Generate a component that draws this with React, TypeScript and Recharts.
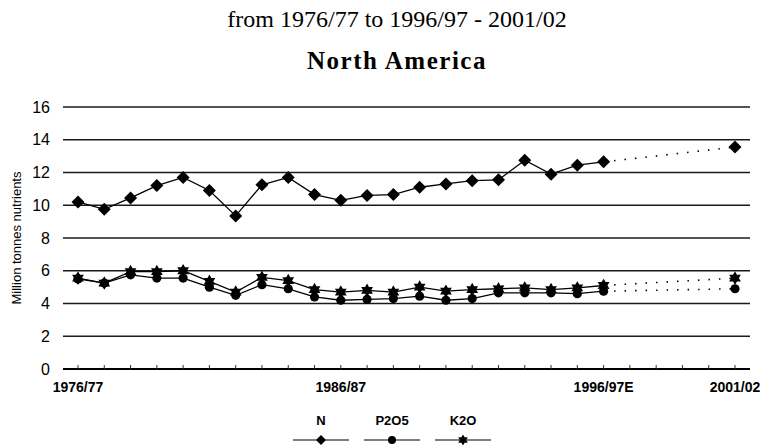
import React from "react";
import { LineChart, Line, XAxis, YAxis, CartesianGrid, Label } from "recharts";

const years = [
  "1976/77", "1977/78", "1978/79", "1979/80", "1980/81", "1981/82", "1982/83",
  "1983/84", "1984/85", "1985/86", "1986/87", "1987/88", "1988/89", "1989/90",
  "1990/91", "1991/92", "1992/93", "1993/94", "1994/95", "1995/96", "1996/97E",
  "1997/98", "1998/99", "1999/00", "2000/01", "2001/02",
];
const shownLabels = ["1976/77", "1986/87", "1996/97E", "2001/02"];

const nValues = [
  10.2, 9.75, 10.45, 11.2, 11.7, 10.9, 9.35, 11.25, 11.7, 10.65, 10.3, 10.6, 10.65,
  11.1, 11.3, 11.5, 11.55, 12.75, 11.9, 12.45, 12.65, null, null, null, null, 13.55,
];
const p2o5Values = [
  5.5, 5.25, 5.75, 5.55, 5.55, 5.0, 4.5, 5.15, 4.9, 4.4, 4.2, 4.25, 4.3,
  4.45, 4.2, 4.3, 4.65, 4.65, 4.65, 4.6, 4.75, null, null, null, null, 4.9,
];
const k2oValues = [
  5.55, 5.25, 5.95, 5.95, 6.0, 5.35, 4.7, 5.6, 5.4, 4.85, 4.7, 4.8, 4.7,
  5.0, 4.75, 4.85, 4.9, 4.95, 4.85, 4.95, 5.1, null, null, null, null, 5.55,
];
// projection 1996/97E -> 2001/02 (dotted)
const nProjection = [
  null, null, null, null, null, null, null, null, null, null, null, null, null,
  null, null, null, null, null, null, null, 12.65, null, null, null, null, 13.55,
];
const p2o5Projection = [
  null, null, null, null, null, null, null, null, null, null, null, null, null,
  null, null, null, null, null, null, null, 4.75, null, null, null, null, 4.9,
];
const k2oProjection = [
  null, null, null, null, null, null, null, null, null, null, null, null, null,
  null, null, null, null, null, null, null, 5.1, null, null, null, null, 5.55,
];
const yTicks = [0, 2, 4, 6, 8, 10, 12, 14, 16];

const data = years.map((year, i) => ({
  year,
  n: nValues[i],
  p: p2o5Values[i],
  k: k2oValues[i],
  nProj: nProjection[i],
  pProj: p2o5Projection[i],
  kProj: k2oProjection[i],
}));

const SANS = "'Liberation Sans', Arial, sans-serif";
const SERIF = "'Liberation Serif', 'Times New Roman', serif";

function diamondPath(cx: number, cy: number, r: number) {
  return `M${cx},${cy - r}L${cx + r},${cy}L${cx},${cy + r}L${cx - r},${cy}Z`;
}

function starPath(cx: number, cy: number, ro: number, ri: number) {
  let d = "";
  for (let k = 0; k < 12; k++) {
    const a = ((-90 + k * 30) * Math.PI) / 180;
    const r = k % 2 === 0 ? ro : ri;
    d += `${k === 0 ? "M" : "L"}${cx + r * Math.cos(a)},${cy + r * Math.sin(a)}`;
  }
  return d + "Z";
}

const DiamondDot = (props: any) => {
  const { cx, cy, index } = props;
  if (cx == null || cy == null) return <g key={`nd-${index}`} />;
  return <path key={`nd-${index}`} d={diamondPath(cx, cy, 6.5)} fill="#000" />;
};

const CircleDot = (props: any) => {
  const { cx, cy, index } = props;
  if (cx == null || cy == null) return <g key={`pd-${index}`} />;
  return <circle key={`pd-${index}`} cx={cx} cy={cy} r={4.6} fill="#000" />;
};

const StarDot = (props: any) => {
  const { cx, cy, index } = props;
  if (cx == null || cy == null) return <g key={`kd-${index}`} />;
  return <path key={`kd-${index}`} d={starPath(cx, cy, 6.8, 3.9)} fill="#000" />;
};

const YearTick = (props: any) => {
  const { x, y, payload } = props;
  const show = shownLabels.includes(payload.value);
  return (
    <g>
      <line x1={x} x2={x} y1={y - 4} y2={y} stroke="#333" strokeWidth={1} />
      {show && (
        <text x={x} y={y + 23} textAnchor="middle" fontSize={14} fontWeight="bold" fill="#000" fontFamily={SANS}>
          {payload.value}
        </text>
      )}
    </g>
  );
};

function LegendBox() {
  const items = [
    { name: "N", cx: 321, mark: "d" },
    { name: "P2O5", cx: 392, mark: "c" },
    { name: "K2O", cx: 463, mark: "s" },
  ];
  return (
    <svg width={760} height={445} style={{ position: "absolute", left: 0, top: 0, pointerEvents: "none" }}>
      {items.map((it) => (
        <g key={it.name}>
          <text x={it.cx} y={425} textAnchor="middle" fontSize={13} fontWeight="bold" fontFamily={SANS} fill="#000">
            {it.name}
          </text>
          <line x1={it.cx - 28} x2={it.cx + 28} y1={440} y2={440} stroke="#000" strokeWidth={1.2} />
          {it.mark === "d" && <path d={diamondPath(it.cx, 440, 5)} fill="#000" />}
          {it.mark === "c" && <circle cx={it.cx} cy={440} r={4} fill="#000" />}
          {it.mark === "s" && <path d={starPath(it.cx, 440, 5.5, 3.2)} fill="#000" />}
        </g>
      ))}
    </svg>
  );
}

export default function App() {
  return (
    <div style={{ position: "absolute", left: 0, top: 0, width: 760, height: 445, background: "#fff", overflow: "hidden" }}>
      <div style={{ position: "absolute", left: 0, top: 6, width: 794, textAlign: "center", fontFamily: SERIF, fontSize: 24, color: "#000" }}>
        from 1976/77 to 1996/97 - 2001/02
      </div>
      <div style={{ position: "absolute", left: 0, top: 47, width: 794, textAlign: "center", fontFamily: SERIF, fontSize: 25, fontWeight: "bold", letterSpacing: 1.5, color: "#000" }}>
        North America
      </div>
      <div style={{ position: "absolute", left: 0, top: 0 }}>
        <LineChart width={760} height={445} data={data} margin={{ top: 107, right: 10, bottom: 46, left: 0 }}>
          <CartesianGrid vertical={false} stroke="#1a1a1a" strokeWidth={1.3} />
          <XAxis
            dataKey="year"
            type="category"
            scale="point"
            padding={{ left: 15, right: 15 }}
            interval={0}
            height={30}
            tickSize={0}
            tickMargin={0}
            tickLine={false}
            axisLine={{ stroke: "#000", strokeWidth: 2 }}
            tick={<YearTick />}
          />
          <YAxis
            domain={[0, 16]}
            ticks={yTicks}
            width={63}
            axisLine={false}
            tickLine={false}
            tickSize={0}
            tickMargin={13}
            tick={{ fill: "#000", fontSize: 16, fontFamily: SANS }}
          >
            <Label
              content={(p: any) => {
                const vb = p.viewBox || { x: 0, y: 107, width: 63, height: 262 };
                const cx = vb.x + 16;
                const cy = vb.y + vb.height / 2;
                return (
                  <text x={cx} y={cy} transform={`rotate(-90, ${cx}, ${cy})`} textAnchor="middle" dominantBaseline="central" fontSize={13} fontFamily={SANS} fill="#000">
                    Million tonnes nutrients
                  </text>
                );
              }}
            />
          </YAxis>
          <Line dataKey="nProj" stroke="#000" strokeWidth={1.6} strokeDasharray="1.5 9" dot={false} connectNulls isAnimationActive={false} />
          <Line dataKey="pProj" stroke="#000" strokeWidth={1.6} strokeDasharray="1.5 9" dot={false} connectNulls isAnimationActive={false} />
          <Line dataKey="kProj" stroke="#000" strokeWidth={1.6} strokeDasharray="1.5 9" dot={false} connectNulls isAnimationActive={false} />
          <Line dataKey="n" stroke="#000" strokeWidth={1.3} dot={<DiamondDot />} activeDot={false} isAnimationActive={false} />
          <Line dataKey="p" stroke="#000" strokeWidth={1.3} dot={<CircleDot />} activeDot={false} isAnimationActive={false} />
          <Line dataKey="k" stroke="#000" strokeWidth={1.3} dot={<StarDot />} activeDot={false} isAnimationActive={false} />
        </LineChart>
      </div>
      <LegendBox />
    </div>
  );
}
